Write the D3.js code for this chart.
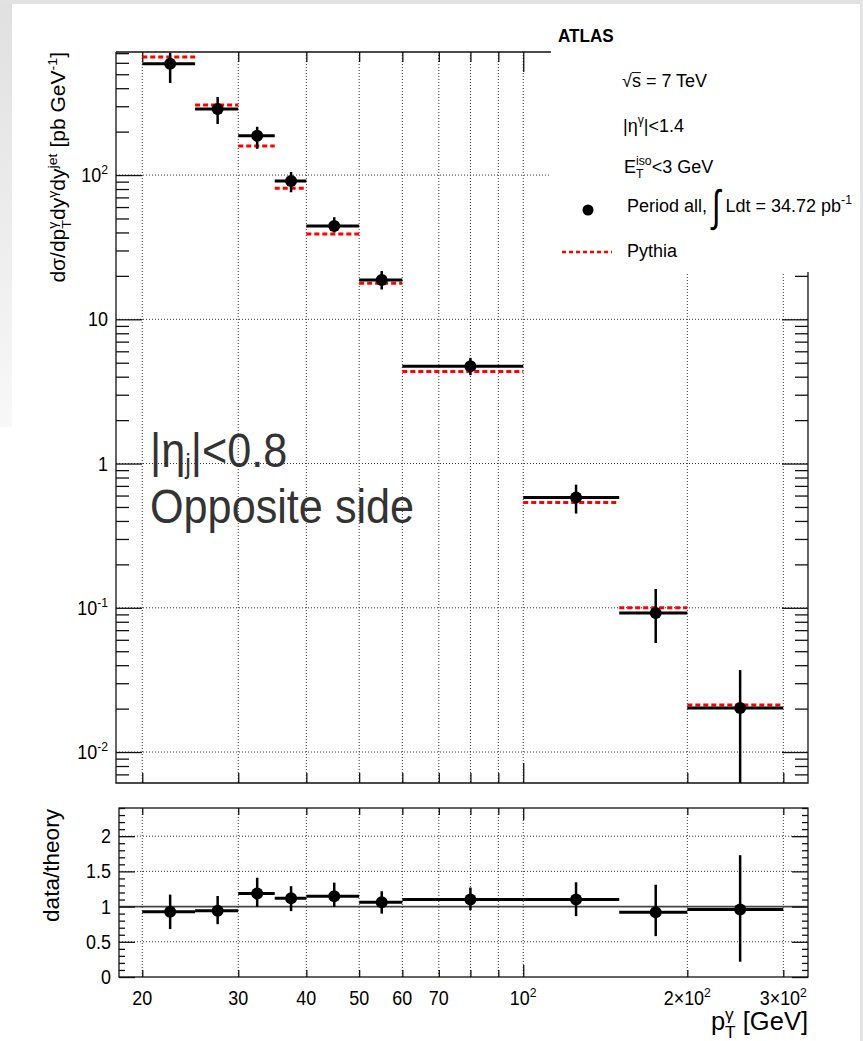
<!DOCTYPE html>
<html>
<head>
<meta charset="utf-8">
<script src="https://cdn.jsdelivr.net/npm/d3@7"></script>
<style>
  html, body { margin: 0; padding: 0; background: #fff; }
  svg { display: block; font-family: "Liberation Sans", Arial, Helvetica, sans-serif; }
</style>
</head>
<body>
<svg id="chart" width="863" height="1041"></svg>
<script>
// ---- photon pT bins (GeV) ----
const binLow    = [20, 25, 30, 35, 40, 50, 60, 100, 150, 200];
const binHigh   = [25, 30, 35, 40, 50, 60, 100, 150, 200, 300];
const binCenter = [22.5, 27.5, 32.5, 37.5, 45, 55, 80, 125, 175, 250];

// ---- measured cross section [pb/GeV] with error band edges ----
const dataXsec     = [590, 287, 187, 91, 44.3, 18.7, 4.72, 0.581, 0.092, 0.0202];
const dataXsecHigh = [703, 348, 216, 105, 51, 21.6, 5.4, 0.714, 0.135, 0.037];
const dataXsecLow  = [435, 226, 152, 76, 40, 16.1, 4.1, 0.45, 0.057, 0.0047];

// ---- Pythia prediction [pb/GeV] ----
const pythiaXsec = [659, 306, 159, 81, 39, 17.8, 4.35, 0.536, 0.100, 0.0212];

// ---- data / theory ratio with error edges ----
const ratio     = [0.925, 0.94, 1.185, 1.12, 1.147, 1.062, 1.10, 1.10, 0.92, 0.96];
const ratioHigh = [1.17, 1.15, 1.41, 1.29, 1.34, 1.218, 1.27, 1.345, 1.31, 1.73];
const ratioLow  = [0.68, 0.75, 0.995, 0.935, 0.995, 0.90, 0.95, 0.864, 0.58, 0.217];

// ---- axis ticks and labels ----
const xGridValues   = [20, 30, 40, 50, 60, 70, 80, 90, 100, 200, 300];
const xTickValues   = [20, 30, 40, 50, 60, 70, 100, 200, 300];
const xTickLabels   = ["20", "30", "40", "50", "60", "70", "10^2", "2×10^2", "3×10^2"];
const yTickValues   = [0.01, 0.1, 1, 10, 100];
const yTickLabels   = ["10^-2", "10^-1", "1", "10", "10^2"];
const ratioTickValues = [0, 0.5, 1, 1.5, 2];
const ratioTickLabels = ["0", "0.5", "1", "1.5", "2"];

const W = 863, H = 1041;
const svg = d3.select("#chart");
const defs = svg.append("defs");

// page background with soft grey edges
const fade = defs.append("linearGradient").attr("id", "edgeFade")
  .attr("x1", 0).attr("y1", 0).attr("x2", 0).attr("y2", 1);
fade.append("stop").attr("offset", "0%").attr("stop-color", "#e0e0e0");
fade.append("stop").attr("offset", "100%").attr("stop-color", "#f8f8f8");
svg.append("rect").attr("width", W).attr("height", H).attr("fill", "#fff");
svg.append("rect").attr("x", 0).attr("y", 0).attr("width", 12).attr("height", 427).attr("fill", "url(#edgeFade)");
svg.append("rect").attr("x", 0).attr("y", 0).attr("width", W).attr("height", 4).attr("fill", "#e2e2e2");
svg.append("rect").attr("x", 860).attr("y", 0).attr("width", 3).attr("height", H).attr("fill", "#e4e4e4");

// ---- pads ----
const P = { l: 116, r: 808, t: 52, b: 783 };   // cross-section pad
const R = { l: 119, r: 808, t: 808, b: 977 };  // ratio pad

const x = d3.scaleLog().domain([17.9, 333]).range([P.l, P.r]);
const y = d3.scaleLog().domain([0.0061, 713]).range([P.b, P.t]);
const yr = d3.scaleLinear().domain([0, 2.4]).range([R.b, R.t]);

defs.append("clipPath").attr("id", "clipTop").append("rect")
  .attr("x", P.l).attr("y", P.t).attr("width", P.r - P.l).attr("height", P.b - P.t);
defs.append("clipPath").attr("id", "clipRatio").append("rect")
  .attr("x", R.l).attr("y", R.t).attr("width", R.r - R.l).attr("height", R.b - R.t);
defs.append("clipPath").attr("id", "clipLegend").append("rect")
  .attr("x", 0).attr("y", 0).attr("width", 853).attr("height", H);

// ---- rich text helper: runs of normal / sup / sub text, optionally stacked ----
function rich(parent, runs, o) {
  const g = parent.append("g")
    .attr("fill", o.fill || "#000")
    .attr("font-weight", o.weight || "normal");
  const inner = g.append("g");
  let cursor = 0, prevStart = 0;
  runs.forEach(r => {
    const kind = r.k || "n";
    const size = r.size || (kind === "n" ? o.size : o.size * 0.68);
    const dy = (kind === "sup" ? -o.size * 0.42 : kind === "sub" ? o.size * 0.3 : 0) + (r.dy || 0);
    const start = r.stack ? prevStart : cursor;
    const t = inner.append("text")
      .attr("x", start).attr("y", dy)
      .attr("font-size", size)
      .text(r.t);
    if (r.sx) t.attr("transform", `translate(${start},0) scale(${r.sx},1) translate(${-start},0)`);
    const w = t.node().getComputedTextLength() * (r.sx || 1);
    if (r.over) {
      inner.append("line")
        .attr("x1", start).attr("x2", start + w)
        .attr("y1", dy - size * 0.8).attr("y2", dy - size * 0.8)
        .attr("stroke", o.fill || "#000").attr("stroke-width", 1);
    }
    cursor = r.stack ? Math.max(cursor, start + w) : start + w;
    prevStart = start;
  });
  const shift = o.anchor === "end" ? -cursor : o.anchor === "middle" ? -cursor / 2 : 0;
  inner.attr("transform", `translate(${shift},0)`);
  g.attr("transform", `translate(${o.x},${o.y}) rotate(${o.rotate || 0}) scale(${o.sx || 1},${o.sy || 1})`);
  return g;
}
function labelRuns(s) {
  const parts = s.split("^");
  return parts.length > 1 ? [{ t: parts[0] }, { t: parts[1], k: "sup" }] : [{ t: s }];
}

const gridStyle = s => s.attr("stroke", "#333").attr("stroke-width", 1).attr("stroke-dasharray", "1,2");
const tickStyle = s => {
  s.select(".domain").remove();
  s.selectAll("line").attr("stroke", "#111").attr("stroke-width", 1.3);
};

// ================= cross-section pad =================
const gTop = svg.append("g");

gTop.append("g").selectAll("line").data(xGridValues).join("line")
  .attr("x1", d => x(d)).attr("x2", d => x(d)).attr("y1", P.t).attr("y2", P.b).call(gridStyle);
gTop.append("g").selectAll("line").data(yTickValues).join("line")
  .attr("x1", P.l).attr("x2", P.r).attr("y1", d => y(d)).attr("y2", d => y(d)).call(gridStyle);

const yMinor = [];
for (let e = -3; e <= 2; e++) for (let k = 2; k <= 9; k++) {
  const v = k * Math.pow(10, e);
  if (v > y.domain()[0] && v < y.domain()[1]) yMinor.push(v);
}
const xMinor = xGridValues.filter(v => v !== 100);

// ticks on all four sides
gTop.append("g").attr("transform", `translate(${P.l},0)`)
  .call(d3.axisLeft(y).tickValues(yTickValues).tickSize(-26).tickFormat("")).call(tickStyle);
gTop.append("g").attr("transform", `translate(${P.l},0)`)
  .call(d3.axisLeft(y).tickValues(yMinor).tickSize(-13).tickFormat("")).call(tickStyle);
gTop.append("g").attr("transform", `translate(${P.r},0)`)
  .call(d3.axisRight(y).tickValues(yTickValues).tickSize(-26).tickFormat("")).call(tickStyle);
gTop.append("g").attr("transform", `translate(${P.r},0)`)
  .call(d3.axisRight(y).tickValues(yMinor).tickSize(-13).tickFormat("")).call(tickStyle);
gTop.append("g").attr("transform", `translate(0,${P.b})`)
  .call(d3.axisBottom(x).tickValues(xMinor).tickSize(-10).tickFormat("")).call(tickStyle);
gTop.append("g").attr("transform", `translate(0,${P.b})`)
  .call(d3.axisBottom(x).tickValues([100]).tickSize(-20).tickFormat("")).call(tickStyle);
gTop.append("g").attr("transform", `translate(0,${P.t})`)
  .call(d3.axisTop(x).tickValues(xMinor).tickSize(-10).tickFormat("")).call(tickStyle);
gTop.append("g").attr("transform", `translate(0,${P.t})`)
  .call(d3.axisTop(x).tickValues([100]).tickSize(-20).tickFormat("")).call(tickStyle);

// bins
const bins = binLow.map((lo, i) => ({
  lo, hi: binHigh[i], c: binCenter[i],
  v: dataXsec[i], up: dataXsecHigh[i], dn: dataXsecLow[i], th: pythiaXsec[i],
  r: ratio[i], rUp: ratioHigh[i], rDn: ratioLow[i]
}));

const marks = gTop.append("g").attr("clip-path", "url(#clipTop)");
marks.selectAll(".th").data(bins).join("line")
  .attr("x1", d => x(d.lo)).attr("x2", d => x(d.hi))
  .attr("y1", d => y(d.th)).attr("y2", d => y(d.th))
  .attr("stroke", "#f00").attr("stroke-width", 3).attr("stroke-dasharray", "5,3");
marks.selectAll(".hbar").data(bins).join("line")
  .attr("x1", d => x(d.lo)).attr("x2", d => x(d.hi))
  .attr("y1", d => y(d.v)).attr("y2", d => y(d.v))
  .attr("stroke", "#000").attr("stroke-width", 3);
marks.selectAll(".vbar").data(bins).join("line")
  .attr("x1", d => x(d.c)).attr("x2", d => x(d.c))
  .attr("y1", d => y(d.up)).attr("y2", d => y(d.dn))
  .attr("stroke", "#000").attr("stroke-width", 2.5);
marks.selectAll("circle").data(bins).join("circle")
  .attr("cx", d => x(d.c)).attr("cy", d => y(d.v)).attr("r", 6).attr("fill", "#000");

// frame
gTop.append("path")
  .attr("d", `M${P.l},${P.t}V${P.b}H${P.r}V${P.t}H${P.l}`)
  .attr("fill", "none").attr("stroke", "#111").attr("stroke-width", 1.3);

// y tick labels
yTickValues.forEach((v, i) => {
  rich(svg, labelRuns(yTickLabels[i]), { x: 108, y: y(v) + 7, size: 19.5, anchor: "end", sx: 0.92 });
});

// legend box covers the upper right corner of the pad
svg.append("rect").attr("x", 551).attr("y", 4).attr("width", 309).attr("height", 268).attr("fill", "#fff");

rich(svg, [{ t: "ATLAS" }], { x: 558, y: 42, size: 18, weight: "bold", sx: 0.95 });
rich(svg, [{ t: "√" }, { t: "s", over: true }, { t: "\u00A0= 7 TeV" }], { x: 622, y: 87, size: 18 });
rich(svg, [{ t: "|η" }, { t: "γ", k: "sup" }, { t: "|<1.4" }], { x: 623, y: 132, size: 18 });
rich(svg, [{ t: "E" }, { t: "iso", k: "sup" }, { t: "T", k: "sub", stack: true }, { t: "<3 GeV" }],
  { x: 624, y: 173, size: 18 });
const lumi = svg.append("g").attr("clip-path", "url(#clipLegend)");
rich(lumi, [{ t: "Period all,\u00A0" }, { t: "∫", size: 44, dy: 9, sx: 0.7 }, { t: "\u00A0Ldt = 34.72 pb" }, { t: "-1", k: "sup" }],
  { x: 627, y: 212, size: 18 });
rich(svg, [{ t: "Pythia" }], { x: 627, y: 257, size: 18 });
svg.append("circle").attr("cx", 588).attr("cy", 210).attr("r", 5.5).attr("fill", "#000");
svg.append("line").attr("x1", 562).attr("x2", 612).attr("y1", 252).attr("y2", 252)
  .attr("stroke", "#f00").attr("stroke-width", 2.5).attr("stroke-dasharray", "4,3");

// annotation
rich(svg, [{ t: "|η" }, { t: "j", k: "sub", size: 28, dy: -8 }, { t: "|<0.8" }],
  { x: 150, y: 467, size: 48, sx: 0.9, fill: "#333" });
rich(svg, [{ t: "Opposite side" }], { x: 150, y: 523, size: 48, sx: 0.9, fill: "#333" });

// y axis title
rich(svg, [
  { t: "dσ/dp" }, { t: "T", k: "sub" }, { t: "γ", k: "sup", stack: true },
  { t: "dy" }, { t: "γ", k: "sup" }, { t: "dy" }, { t: "jet", k: "sup" },
  { t: "\u00A0[pb GeV" }, { t: "-1", k: "sup" }, { t: "]" }
], { x: 65, y: 52, size: 20, rotate: -90, anchor: "end", sx: 1.05 });

// ================= ratio pad =================
const gR = svg.append("g");
gR.append("g").selectAll("line").data(xGridValues).join("line")
  .attr("x1", d => x(d)).attr("x2", d => x(d)).attr("y1", R.t).attr("y2", R.b).call(gridStyle);
gR.append("g").selectAll("line").data(ratioTickValues.filter(v => v !== 0 && v !== 1)).join("line")
  .attr("x1", R.l).attr("x2", R.r).attr("y1", d => yr(d)).attr("y2", d => yr(d)).call(gridStyle);
gR.append("line").attr("x1", R.l).attr("x2", R.r).attr("y1", yr(1)).attr("y2", yr(1))
  .attr("stroke", "#444").attr("stroke-width", 1.8);

const rMinor = d3.range(0, 2.41, 0.1).filter(v => Math.abs(v * 2 - Math.round(v * 2)) > 1e-6);
gR.append("g").attr("transform", `translate(${R.l},0)`)
  .call(d3.axisLeft(yr).tickValues(ratioTickValues).tickSize(-16).tickFormat("")).call(tickStyle);
gR.append("g").attr("transform", `translate(${R.l},0)`)
  .call(d3.axisLeft(yr).tickValues(rMinor).tickSize(-6).tickFormat("")).call(tickStyle);
gR.append("g").attr("transform", `translate(${R.r},0)`)
  .call(d3.axisRight(yr).tickValues(ratioTickValues).tickSize(-16).tickFormat("")).call(tickStyle);
gR.append("g").attr("transform", `translate(${R.r},0)`)
  .call(d3.axisRight(yr).tickValues(rMinor).tickSize(-6).tickFormat("")).call(tickStyle);
gR.append("g").attr("transform", `translate(0,${R.b})`)
  .call(d3.axisBottom(x).tickValues(xMinor).tickSize(-7).tickFormat("")).call(tickStyle);
gR.append("g").attr("transform", `translate(0,${R.b})`)
  .call(d3.axisBottom(x).tickValues([100]).tickSize(-12).tickFormat("")).call(tickStyle);
gR.append("g").attr("transform", `translate(0,${R.t})`)
  .call(d3.axisTop(x).tickValues(xMinor).tickSize(-7).tickFormat("")).call(tickStyle);
gR.append("g").attr("transform", `translate(0,${R.t})`)
  .call(d3.axisTop(x).tickValues([100]).tickSize(-12).tickFormat("")).call(tickStyle);

const rMarks = gR.append("g").attr("clip-path", "url(#clipRatio)");
rMarks.selectAll(".hbar").data(bins).join("line")
  .attr("x1", d => x(d.lo)).attr("x2", d => x(d.hi))
  .attr("y1", d => yr(d.r)).attr("y2", d => yr(d.r))
  .attr("stroke", "#000").attr("stroke-width", 3);
rMarks.selectAll(".vbar").data(bins).join("line")
  .attr("x1", d => x(d.c)).attr("x2", d => x(d.c))
  .attr("y1", d => yr(d.rUp)).attr("y2", d => yr(d.rDn))
  .attr("stroke", "#000").attr("stroke-width", 2.5);
rMarks.selectAll("circle").data(bins).join("circle")
  .attr("cx", d => x(d.c)).attr("cy", d => yr(d.r)).attr("r", 6).attr("fill", "#000");

gR.append("rect").attr("x", R.l).attr("y", R.t).attr("width", R.r - R.l).attr("height", R.b - R.t)
  .attr("fill", "none").attr("stroke", "#111").attr("stroke-width", 1.3);

ratioTickValues.forEach((v, i) => {
  rich(svg, [{ t: ratioTickLabels[i] }], { x: 111, y: yr(v) + 7, size: 19.5, anchor: "end", sx: 0.92 });
});
xTickValues.forEach((v, i) => {
  rich(svg, labelRuns(xTickLabels[i]), { x: x(v), y: 1005, size: 19.5, anchor: "middle", sx: 0.92 });
});

rich(svg, [{ t: "data/theory" }], { x: 59, y: 809, size: 21.5, rotate: -90, anchor: "end", sx: 1.05 });
rich(svg, [{ t: "p" }, { t: "T", k: "sub" }, { t: "γ", k: "sup", stack: true }, { t: "\u00A0[GeV]" }],
  { x: 808, y: 1030, size: 25, anchor: "end", sx: 1.02 });
</script>
</body>
</html>
